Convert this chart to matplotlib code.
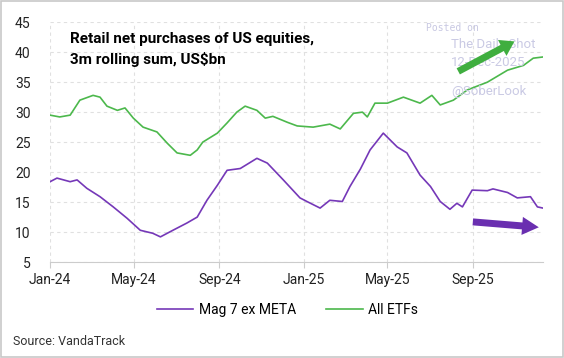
import matplotlib
matplotlib.use("Agg")
import matplotlib.pyplot as plt
import matplotlib.dates as mdates
from matplotlib.patches import Rectangle
import pandas as pd

plt.rcParams['font.family'] = ['Roboto', 'DejaVu Sans']

# All ETFs, 3m rolling sum (US$bn)
etf_dates = ["2024-01-01", "2024-01-15", "2024-01-30", "2024-02-13", "2024-03-03",
             "2024-03-13", "2024-03-23", "2024-04-07", "2024-04-18", "2024-04-30",
             "2024-05-14", "2024-06-03", "2024-06-18", "2024-07-02", "2024-07-21",
             "2024-07-31", "2024-08-08", "2024-08-29", "2024-09-12", "2024-09-26",
             "2024-10-08", "2024-10-25", "2024-11-06", "2024-11-17", "2024-12-08",
             "2024-12-22", "2025-01-14", "2025-02-07", "2025-02-22", "2025-03-13",
             "2025-03-26", "2025-04-02", "2025-04-13", "2025-05-01", "2025-05-24",
             "2025-06-17", "2025-07-04", "2025-07-16", "2025-08-04", "2025-08-24",
             "2025-09-22", "2025-10-21", "2025-11-13", "2025-11-27", "2025-12-11"]
etf_vals = [29.5, 29.2, 29.5, 32.0, 32.8,
            32.5, 31.0, 30.3, 30.7, 29.0,
            27.5, 26.7, 24.8, 23.2, 22.8,
            23.7, 25.0, 26.5, 28.2, 30.0,
            31.0, 30.3, 29.0, 29.3, 28.3,
            27.7, 27.5, 28.0, 27.2, 29.8,
            30.0, 29.2, 31.5, 31.5, 32.5,
            31.5, 32.8, 31.2, 32.0, 33.7,
            35.0, 37.0, 37.8, 39.0, 39.2]

# Mag 7 ex META, 3m rolling sum (US$bn)
mag_dates = ["2024-01-01", "2024-01-11", "2024-01-30", "2024-02-09", "2024-02-23",
             "2024-03-13", "2024-04-01", "2024-04-21", "2024-05-10", "2024-05-28",
             "2024-06-08", "2024-06-26", "2024-07-16", "2024-07-31", "2024-08-14",
             "2024-08-29", "2024-09-12", "2024-10-01", "2024-10-25", "2024-11-09",
             "2024-12-02", "2024-12-26", "2025-01-05", "2025-01-24", "2025-02-07",
             "2025-02-25", "2025-03-08", "2025-03-23", "2025-04-06", "2025-04-25",
             "2025-05-15", "2025-05-29", "2025-06-17", "2025-07-02", "2025-07-16",
             "2025-07-30", "2025-08-09", "2025-08-17", "2025-08-31", "2025-09-22",
             "2025-09-30", "2025-10-21", "2025-11-04", "2025-11-23", "2025-12-03",
             "2025-12-11"]
mag_vals = [18.4, 19.0, 18.4, 18.7, 17.3,
            15.9, 14.2, 12.3, 10.3, 9.8,
            9.2, 10.3, 11.5, 12.5, 15.3,
            17.8, 20.3, 20.6, 22.3, 21.5,
            18.7, 15.7, 15.1, 14.0, 15.3,
            15.1, 17.6, 20.5, 23.7, 26.5,
            24.2, 23.2, 19.5, 17.6, 15.1,
            13.8, 14.8, 14.2, 17.0, 16.9,
            17.2, 16.6, 15.7, 15.9, 14.2,
            14.0]

tick_dates = ["2024-01-01", "2024-05-01", "2024-09-01",
              "2025-01-01", "2025-05-01", "2025-09-01"]

purple = "#7538b8"
green = "#4cb84c"

fig = plt.figure(figsize=(5.64, 3.58), dpi=100)
ax = fig.add_axes([0.0887, 0.268, 0.874, 0.670])

ax.plot(pd.to_datetime(mag_dates), mag_vals, color=purple, lw=1.2, label="Mag 7 ex META")
ax.plot(pd.to_datetime(etf_dates), etf_vals, color=green, lw=1.2, label="All ETFs")

ax.set_ylim(5, 45)
ax.set_yticks(range(5, 50, 5))
ax.set_xlim(pd.Timestamp("2024-01-01"), pd.Timestamp("2025-12-11"))
ax.set_xticks(pd.to_datetime(tick_dates))
ax.xaxis.set_major_formatter(mdates.DateFormatter("%b-%y"))

ax.grid(True, color="#e0e0e0", ls=(0, (3, 3)), lw=0.8)
for s in ["left", "right", "top"]:
    ax.spines[s].set_visible(False)
ax.spines["bottom"].set_color("#cccccc")
ax.tick_params(axis="y", length=0, labelsize=10, pad=14, colors="#222222")
ax.tick_params(axis="x", length=4, color="#cccccc", labelsize=10, pad=4, colors="#222222")

ax.text(0.04, 0.96, "Retail net purchases of US equities,\n3m rolling sum, US$bn",
        transform=ax.transAxes, ha="left", va="top", fontsize=11,
        fontweight="bold", linespacing=1.5)

# watermark
ax.text(0.763, 0.995, "Posted on", transform=ax.transAxes, family="DejaVu Sans Mono",
        fontsize=7, color="#c8c8e2", va="top")
for t, yy in [("The Daily Shot", 0.935), ("12-Dec-2025", 0.857), ("@SoberLook", 0.74)]:
    ax.text(0.813, yy, t, transform=ax.transAxes, fontsize=9.5, color="#cacae4", va="top")

# trend arrows
ax.annotate("", xy=(pd.Timestamp("2025-10-31"), 41.8), xytext=(pd.Timestamp("2025-08-11"), 36.8),
            arrowprops=dict(facecolor="#3fae3f", edgecolor="none", width=5,
                            headwidth=13, headlength=10))
ax.annotate("", xy=(pd.Timestamp("2025-12-05"), 10.8), xytext=(pd.Timestamp("2025-09-01"), 11.7),
            arrowprops=dict(facecolor="#6a2fb0", edgecolor="none", width=5,
                            headwidth=13, headlength=12))

fig.legend(loc="center", bbox_to_anchor=(0.51, 0.135), ncol=2, frameon=False,
           fontsize=10, handlelength=2.6, columnspacing=2.2, handletextpad=0.4)

fig.text(0.023, 0.035, "Source: VandaTrack", fontsize=9, color="#333333")
fig.patches.append(Rectangle((0.002, 0.003), 0.996, 0.994, transform=fig.transFigure,
                             fill=False, edgecolor="#c8c8c8", lw=1.2))

fig.savefig("out.png", dpi=100)
